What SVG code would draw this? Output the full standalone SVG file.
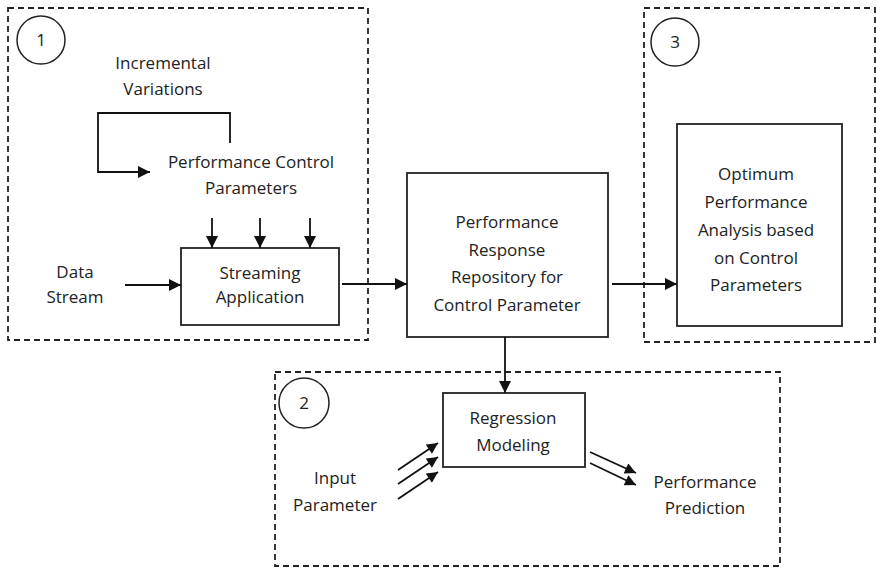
<svg xmlns="http://www.w3.org/2000/svg" width="876" height="568" viewBox="0 0 876 568">
<defs>
<style>
.dash{fill:none;stroke:#222;stroke-width:1.8;stroke-dasharray:6 4}
.box{fill:#fff;stroke:#222;stroke-width:1.8}
.circ{fill:none;stroke:#222;stroke-width:1.5}
.ln{fill:none;stroke:#111;stroke-width:1.8}
text{font-family:"Open Sans","Noto Sans",sans-serif;font-size:17px;fill:#222;text-anchor:middle}
</style>
<marker id="ah" viewBox="0 0 10 10" refX="10" refY="5" markerWidth="13" markerHeight="12" markerUnits="userSpaceOnUse" orient="auto">
<path d="M0,0 L10,5 L0,10 z" fill="#111"/>
</marker>
<marker id="ahs" viewBox="0 0 10 10" refX="10" refY="5" markerWidth="12" markerHeight="11" markerUnits="userSpaceOnUse" orient="auto">
<path d="M0,0 L10,5 L0,10 z" fill="#111"/>
</marker>
</defs>
<rect width="876" height="568" fill="#fff"/>

<g id="group1">
<rect class="dash" x="8" y="8" width="360" height="332"/>
<circle class="circ" cx="41" cy="40" r="24"/>
<text x="41" y="46">1</text>
</g>
<g id="group3">
<rect class="dash" x="644" y="8" width="231" height="334"/>
<circle class="circ" cx="675" cy="42" r="24"/>
<text x="675" y="48">3</text>
</g>
<g id="group2">
<rect class="dash" x="275" y="372" width="505" height="194"/>
<circle class="circ" cx="304" cy="403" r="25"/>
<text x="304" y="409">2</text>
</g>

<g id="incremental">
<text x="163" y="69">Incremental</text>
<text x="163" y="95">Variations</text>
</g>
<g id="pcp">
<text x="251" y="168">Performance Control</text>
<text x="251" y="194">Parameters</text>
</g>
<g id="datastream">
<text x="75" y="278">Data</text>
<text x="75" y="303">Stream</text>
</g>
<g id="streaming">
<rect class="box" x="181" y="248" width="158" height="77"/>
<text x="260" y="279">Streaming</text>
<text x="260" y="303">Application</text>
</g>
<g id="repository">
<rect class="box" x="407" y="173" width="201" height="164"/>
<text x="507" y="228">Performance</text>
<text x="507" y="256">Response</text>
<text x="507" y="283">Repository for</text>
<text x="507" y="311">Control Parameter</text>
</g>
<g id="optimum">
<rect class="box" x="677" y="124" width="165" height="202"/>
<text x="756" y="180">Optimum</text>
<text x="756" y="208">Performance</text>
<text x="756" y="236">Analysis based</text>
<text x="756" y="264">on Control</text>
<text x="756" y="291">Parameters</text>
</g>
<g id="regression">
<rect class="box" x="443" y="393" width="142" height="74"/>
<text x="513" y="424">Regression</text>
<text x="513" y="451">Modeling</text>
</g>
<g id="input">
<text x="335" y="484">Input</text>
<text x="335" y="511">Parameter</text>
</g>
<g id="prediction">
<text x="705" y="488">Performance</text>
<text x="705" y="514">Prediction</text>
</g>

<g id="connectors">
<polyline class="ln" points="230,143 230,113 98,113 98,172 150,172" marker-end="url(#ah)"/>
<line class="ln" x1="212" y1="218" x2="212" y2="248" marker-end="url(#ah)"/>
<line class="ln" x1="260" y1="218" x2="260" y2="248" marker-end="url(#ah)"/>
<line class="ln" x1="310" y1="218" x2="310" y2="248" marker-end="url(#ah)"/>
<line class="ln" x1="125" y1="285" x2="181" y2="285" marker-end="url(#ah)"/>
<line class="ln" x1="342" y1="284" x2="407" y2="284" marker-end="url(#ah)"/>
<line class="ln" x1="612" y1="284" x2="677" y2="284" marker-end="url(#ah)"/>
<line class="ln" x1="505" y1="337" x2="505" y2="393" marker-end="url(#ah)"/>
<line class="ln" x1="398" y1="470" x2="438" y2="443" marker-end="url(#ahs)"/>
<line class="ln" x1="398" y1="484" x2="438" y2="457" marker-end="url(#ahs)"/>
<line class="ln" x1="398" y1="499" x2="438" y2="472" marker-end="url(#ahs)"/>
<line class="ln" x1="590" y1="452" x2="636" y2="473" marker-end="url(#ahs)"/>
<line class="ln" x1="590" y1="463" x2="636" y2="485" marker-end="url(#ahs)"/>
</g>
</svg>
